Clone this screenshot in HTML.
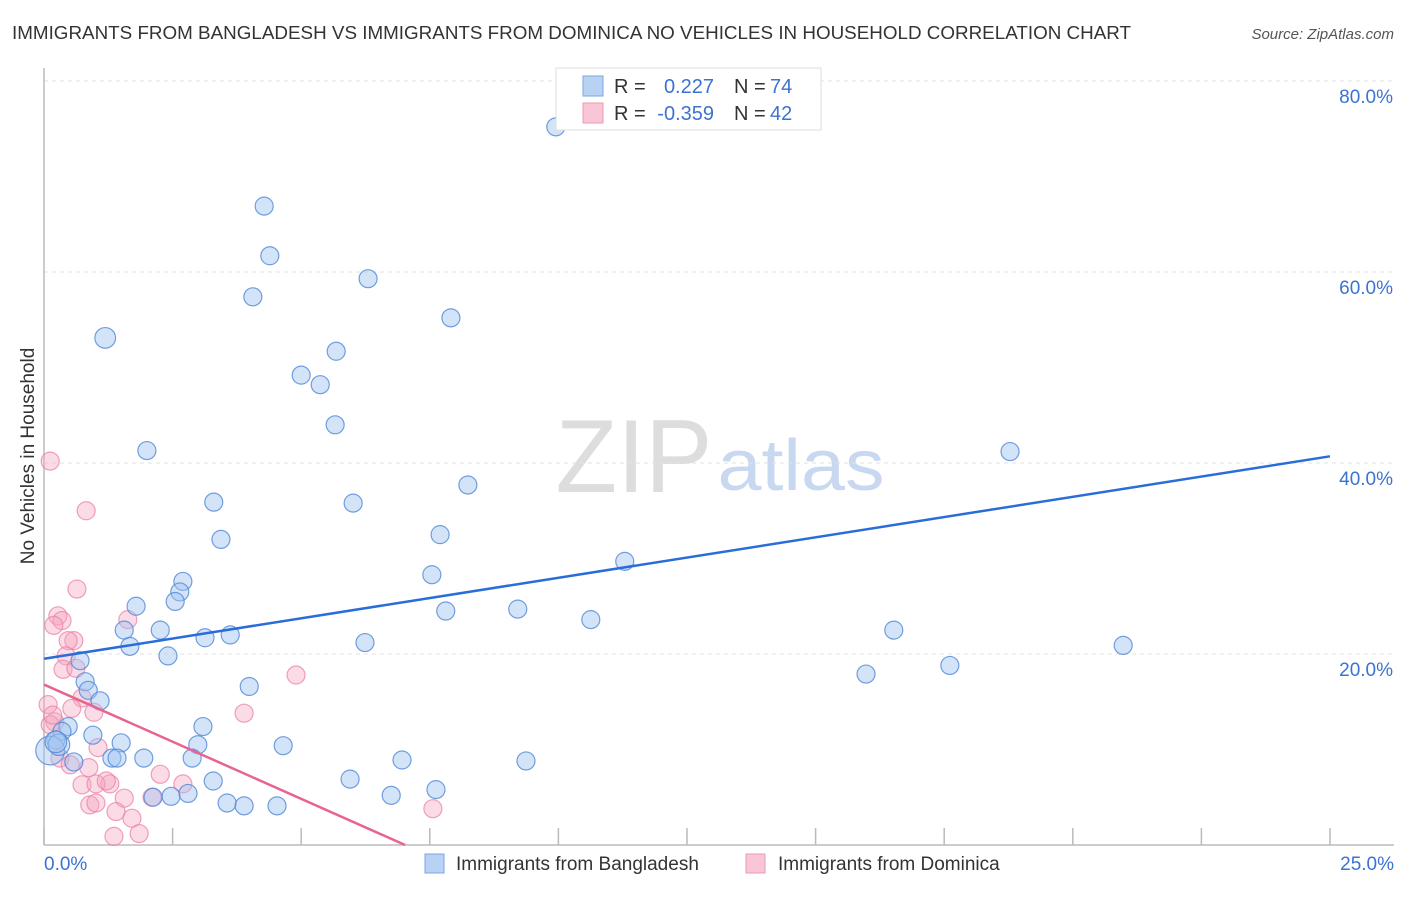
<!DOCTYPE html>
<html><head><meta charset="utf-8"><style>
body{margin:0;background:#fff;font-family:"Liberation Sans",sans-serif}
svg text{font-family:"Liberation Sans",sans-serif}
</style></head><body>
<svg id="chart" width="1406" height="892" viewBox="0 0 1406 892" xmlns="http://www.w3.org/2000/svg">
<text x="12" y="39" font-size="18.5" fill="#333" textLength="1119" lengthAdjust="spacingAndGlyphs">IMMIGRANTS FROM BANGLADESH VS IMMIGRANTS FROM DOMINICA NO VEHICLES IN HOUSEHOLD CORRELATION CHART</text>
<text x="1394" y="39" font-size="15" fill="#555" text-anchor="end" font-style="italic">Source: ZipAtlas.com</text>
<g>
<text x="634" y="492" font-size="104" fill="#ddd" text-anchor="middle" font-family="Liberation Serif, serif" textLength="157" lengthAdjust="spacingAndGlyphs">ZIP</text>
<text x="801" y="490" font-size="72" fill="#c8d8f0" text-anchor="middle" textLength="167" lengthAdjust="spacingAndGlyphs">atlas</text>
</g>
<g id="grid"></g>
<g id="axes"></g>
<g id="marks"></g>
<text transform="translate(34,456) rotate(-90)" font-size="19" fill="#333" text-anchor="middle">No Vehicles in Household</text>
<text x="44" y="870" font-size="19" fill="#3b73d1">0.0%</text>
<text x="1394" y="870" font-size="19" fill="#3b73d1" text-anchor="end">25.0%</text>
<g>
<rect x="556" y="68" width="265" height="62" fill="#fff" stroke="#ddd"/>
<rect x="583" y="76" width="20" height="20" fill="#b8d2f4" stroke="#7aa6e0"/>
<rect x="583" y="103" width="20" height="20" fill="#f9c6d6" stroke="#f097b4"/>
<text x="614" y="93" font-size="20" fill="#333">R = </text><text x="714" y="93" font-size="20" fill="#3b73d1" text-anchor="end">0.227</text>
<text x="734" y="93" font-size="20" fill="#333">N = </text><text x="770" y="93" font-size="20" fill="#3b73d1">74</text>
<text x="614" y="120" font-size="20" fill="#333">R = </text><text x="714" y="120" font-size="20" fill="#3b73d1" text-anchor="end">-0.359</text>
<text x="734" y="120" font-size="20" fill="#333">N = </text><text x="770" y="120" font-size="20" fill="#3b73d1">42</text>
</g>
<g>
<rect x="425" y="854" width="19" height="19" fill="#b8d2f4" stroke="#7aa6e0"/>
<text x="456" y="870" font-size="19" fill="#333">Immigrants from Bangladesh</text>
</g>
<g>
<rect x="746" y="854" width="19" height="19" fill="#f9c6d6" stroke="#f097b4"/>
<text x="778" y="870" font-size="19" fill="#333">Immigrants from Dominica</text>
</g>
</svg>
<script>
const yTicks=[20,40,60,80];
const yTickLabels=["20.0%","40.0%","60.0%","80.0%"];
const xTicks=[0,2.5,5,7.5,10,12.5,15,17.5,20,22.5,25];
const blueX=[9.95,4.28,4.39,4.06,6.30,7.91,1.19,5.68,5.00,5.37,5.66,2.00,18.78,3.30,6.01,8.24,3.44,7.70,11.29,7.54,2.70,2.64,2.55,1.79,9.21,7.81,10.63,1.56,2.26,16.52,3.13,3.62,6.24,1.67,2.41,0.70,20.98,15.98,17.61,3.99,0.80,0.86,1.09,3.09,0.47,0.35,0.95,0.23,0.12,1.50,2.99,4.65,1.32,1.42,1.94,2.88,0.58,6.96,9.37,3.29,5.95,2.47,2.80,2.12,3.56,3.89,4.53,6.75,7.62,0.29,0.23];
const blueY=[75.2,66.9,61.7,57.4,59.3,55.2,53.1,51.7,49.2,48.2,44.0,41.3,41.2,35.9,35.8,37.7,32.0,32.5,29.7,28.3,27.6,26.5,25.5,25.0,24.7,24.5,23.6,22.5,22.5,22.5,21.7,22.0,21.2,20.8,19.8,19.3,20.9,17.9,18.8,16.6,17.1,16.2,15.1,12.4,12.4,11.9,11.5,11.0,9.9,10.7,10.5,10.4,9.1,9.1,9.1,9.1,8.7,8.9,8.8,6.7,6.9,5.1,5.4,5.0,4.4,4.1,4.1,5.2,5.8,10.5,10.8];
const blueSize=[1,1,1,1,1,1,1.15,1,1,1,1,1,1,1,1,1,1,1,1,1,1,1,1,1,1,1,1,1,1,1,1,1,1,1,1,1,1,1,1,1,1,1,1,1,1,1,1,1,1.6,1,1,1,1,1,1,1,1,1,1,1,1,1,1,1,1,1,1,1,1,1.2,1.2];
const pinkX=[0.12,0.82,0.64,0.27,0.35,0.19,0.58,0.47,0.43,0.37,0.62,4.90,0.74,0.54,0.97,3.89,0.08,0.21,0.12,1.05,0.31,0.87,2.26,2.70,0.74,1.28,1.01,1.21,1.56,2.10,0.89,1.01,1.40,1.71,7.56,1.36,1.85,0.51,0.17,1.63];
const pinkY=[40.2,35.0,26.8,24.0,23.5,23.0,21.4,21.4,19.8,18.4,18.5,17.8,15.4,14.3,13.9,13.8,14.7,12.9,12.6,10.2,9.1,8.1,7.4,6.4,6.3,6.4,6.4,6.7,4.9,5.0,4.2,4.4,3.5,2.8,3.8,0.9,1.2,8.4,13.6,23.6];
const blueTrend=[19.5,40.7];
const pinkTrend=[16.8,0];const pinkTrendEndX=7.02;
const NS="http://www.w3.org/2000/svg";
const X0=44,X1=1330,Y0=845,YPER=9.55;
const sx=v=>X0+v/25*(X1-X0);
const sy=v=>Y0-v*YPER;
function mk(tag,attrs,parent){const e=document.createElementNS(NS,tag);for(const k in attrs)e.setAttribute(k,attrs[k]);document.getElementById(parent).appendChild(e);return e;}
yTicks.forEach((t,i)=>{
 const l=mk('line',{x1:44,x2:1394,y1:sy(t),y2:sy(t),stroke:'#e2e2e2','stroke-dasharray':'4,4'},'grid');
 
 
 const tx=mk('text',{x:1393,y:sy(t)+22,'font-size':19,fill:'#3b73d1','text-anchor':'end'},'grid');
 tx.textContent=yTickLabels[i];
 
 
});
const ya=mk('line',{x1:44,x2:44,y1:68,y2:845,stroke:'#bbb','stroke-width':1.5},'axes');


const xa=mk('line',{x1:44,x2:1394,y1:845,y2:845,stroke:'#bbb','stroke-width':1.5},'axes');


xTicks.forEach(t=>{
 const l=mk('line',{x1:sx(t),x2:sx(t),y1:828,y2:845,stroke:'#bbb','stroke-width':1.5},'axes');
 
 
});
pinkX.forEach((x,i)=>{
 const c=mk('circle',{cx:sx(x),cy:sy(pinkY[i]),r:9,fill:'rgba(245,165,192,0.4)',stroke:'rgba(235,130,165,0.75)','stroke-width':1.2},'marks');
 
 
});
blueX.forEach((x,i)=>{
 const c=mk('circle',{cx:sx(x),cy:sy(blueY[i]),r:9*blueSize[i],fill:'rgba(160,196,240,0.45)',stroke:'rgba(80,135,215,0.8)','stroke-width':1.2},'marks');
 
 
});
const bl=mk('line',{x1:sx(0),y1:sy(blueTrend[0]),x2:sx(25),y2:sy(blueTrend[1]),stroke:'#2a6dd9','stroke-width':2.5},'marks');


const pl=mk('line',{x1:sx(0),y1:sy(pinkTrend[0]),x2:sx(pinkTrendEndX),y2:sy(pinkTrend[1]),stroke:'#e8648f','stroke-width':2.5},'marks');


</script>
</body></html>
